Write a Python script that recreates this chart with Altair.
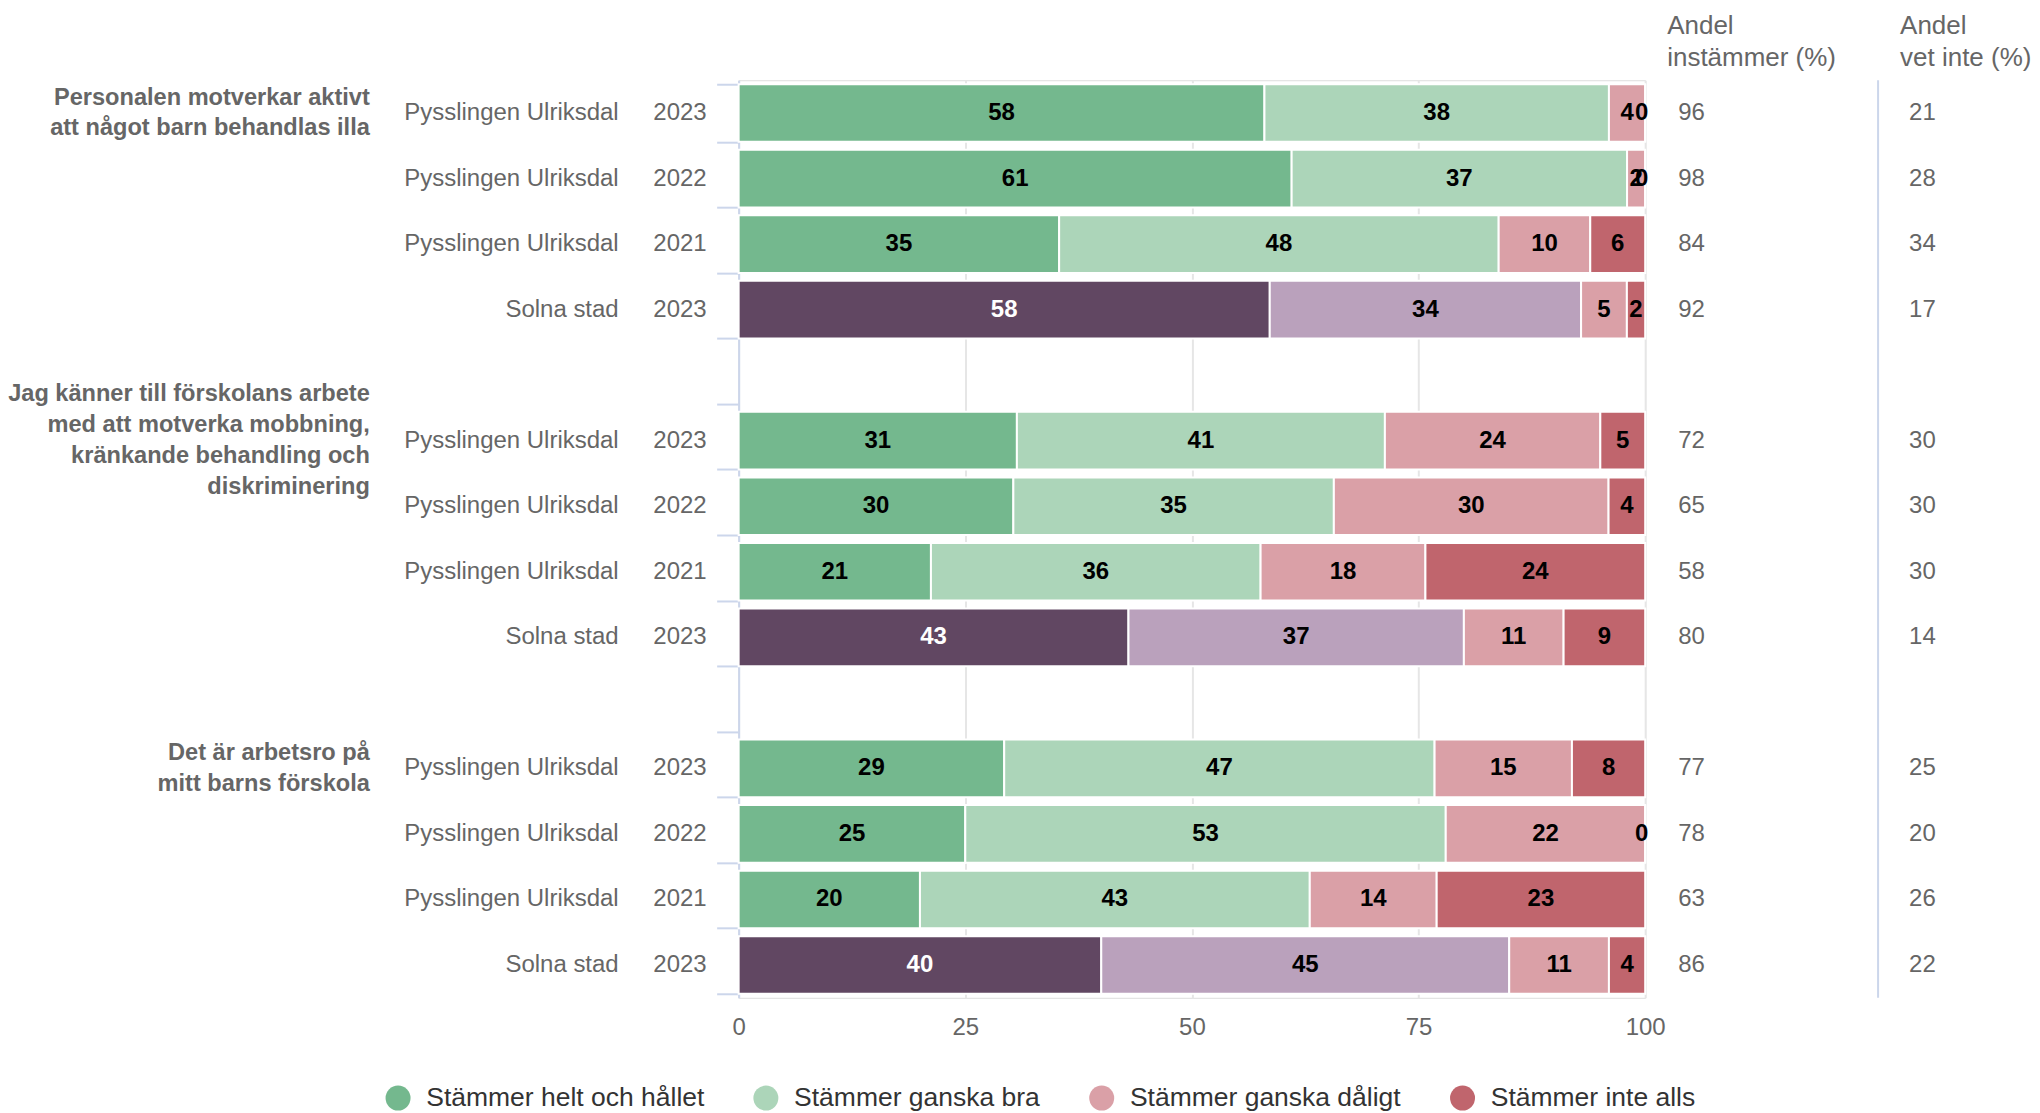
import altair as alt
import pandas as pd

# ---------------- data ----------------
categories = ["Stämmer helt och hållet", "Stämmer ganska bra",
              "Stämmer ganska dåligt", "Stämmer inte alls"]
solna_keys = ["Solna: Stämmer helt och hållet", "Solna: Stämmer ganska bra"]
colors = ["#74b88e", "#acd5b9", "#daa0a7", "#c0656d", "#614762", "#baa1bc"]

group_labels = [
    "Personalen motverkar aktivt\natt något barn behandlas illa",
    "Jag känner till förskolans arbete\nmed att motverka mobbning,\nkränkande behandling och\ndiskriminering",
    "Det är arbetsro på\nmitt barns förskola",
]
units = ["Pysslingen Ulriksdal", "Pysslingen Ulriksdal", "Pysslingen Ulriksdal", "Solna stad"]
years = ["2023", "2022", "2021", "2023"]

helt = [58, 61, 35, 58, 31, 30, 21, 43, 29, 25, 20, 40]
bra = [38, 37, 48, 34, 41, 35, 36, 37, 47, 53, 43, 45]
daligt = [4, 2, 10, 5, 24, 30, 18, 11, 15, 22, 14, 11]
inte = [0, 0, 6, 2, 5, 4, 24, 9, 8, 0, 23, 4]
instammer = [96, 98, 84, 92, 72, 65, 58, 80, 77, 78, 63, 86]
vet_inte = [21, 28, 34, 17, 30, 30, 30, 14, 25, 20, 26, 22]

header_inst = "Andel\ninstämmer (%)"
header_vet = "Andel\nvet inte (%)"
x_ticks = [0, 0.25, 0.5, 0.75, 1.0]

# ---------------- tables ----------------
row_domain = [f"r{i}" for i in range(14)]
series = [helt, bra, daligt, inte]

rows, long_rows, grp_rows = [], [], []
for gi, g in enumerate(group_labels):
    for ri in range(4):
        idx = gi * 4 + ri
        key = f"r{gi * 5 + ri}"
        rows.append({"row": key, "unit": units[ri], "year": years[ri],
                     "inst": instammer[idx], "vet": vet_inte[idx]})
        solna = units[ri] == "Solna stad"
        for ci, cat in enumerate(categories):
            ckey = solna_keys[ci] if (solna and ci < 2) else cat
            long_rows.append({"row": key, "cat": cat, "ckey": ckey, "order": ci,
                              "value": series[ci][idx],
                              "lbl": "white" if (solna and ci == 0) else "black"})
    grp_rows.append({"row": f"r{gi * 5}", "label": g, "nlines": g.count("\n") + 1})

rows_df = pd.DataFrame(rows)
long_df = pd.DataFrame(long_rows)
grp_df = pd.DataFrame(grp_rows)

W, H = 907, 918
FONT = "Liberation Sans"
GREY = "#666666"
LH = 31

yscale = alt.Scale(domain=row_domain, paddingInner=0.12, paddingOuter=0.06)
yaxis = alt.Axis(labels=False, title=None, ticks=True, tickSize=22, tickColor="#ccd6eb",
                 tickWidth=2, tickBand="extent", domain=True, domainColor="#ccd6eb",
                 domainWidth=2, grid=False)
yenc = alt.Y("row:N", scale=yscale, axis=yaxis)

xscale = alt.Scale(domain=[0, 1], nice=False)
xaxis = alt.Axis(values=x_ticks, labelExpr="format(datum.value*100, 'd')", title=None,
                 domain=False, ticks=False, grid=True, gridColor="#e6e6e6", gridWidth=2,
                 labelFontSize=24, labelColor=GREY, labelPadding=18, labelFont=FONT,
                 labelFlush=False, labelOverlap=False)

base = alt.Chart(long_df).transform_stack(
    stack="value", groupby=["row"], as_=["v0", "v1"], offset="normalize",
    sort=[alt.SortField("order", order="ascending")]
).transform_calculate(
    mid="datum.value == 0 ? datum.v1 - 0.004 : (datum.v0 + datum.v1) / 2"
)

legend = alt.Legend(orient="none", legendX=-354, legendY=1005, direction="horizontal",
                    values=categories, symbolType="circle", symbolSize=625,
                    symbolStrokeWidth=0, labelFontSize=26.5, labelColor="#333333",
                    labelFont=FONT, columnPadding=48, labelOffset=15, title=None,
                    labelLimit=0, padding=0)

bars = base.mark_bar(stroke="white", strokeWidth=2).encode(
    x=alt.X("v0:Q", scale=xscale, axis=xaxis),
    x2="v1:Q",
    y=yenc,
    color=alt.Color("ckey:N", scale=alt.Scale(domain=categories + solna_keys, range=colors),
                    legend=legend),
)

bar_labels = base.mark_text(font=FONT, fontSize=24, fontWeight="bold").encode(
    x=alt.X("mid:Q", scale=xscale, axis=xaxis),
    y=yenc,
    text="value:Q",
    color=alt.condition(alt.datum.lbl == "white", alt.value("white"), alt.value("black")),
)

names = alt.Chart(rows_df).mark_text(font=FONT, fontSize=24, color=GREY, align="right").encode(
    x=alt.value(-120), y=yenc, text="unit:N")
yrs = alt.Chart(rows_df).mark_text(font=FONT, fontSize=24, color=GREY, align="right").encode(
    x=alt.value(-32), y=yenc, text="year:N")


def group_layer(n):
    return alt.Chart(grp_df).transform_filter(alt.datum.nlines == n).mark_text(
        font=FONT, fontSize=23.6, fontWeight="bold", color=GREY, align="right",
        baseline="middle", lineBreak="\n", lineHeight=LH, dy=-(n - 1) * LH / 2
    ).encode(x=alt.value(-369), y=yenc, text="label:N")


groups2 = group_layer(2)
groups4 = group_layer(4)

inst = alt.Chart(rows_df).mark_text(font=FONT, fontSize=24, color=GREY, align="left").encode(
    x=alt.value(940), y=yenc, text="inst:Q")
vet = alt.Chart(rows_df).mark_text(font=FONT, fontSize=24, color=GREY, align="left").encode(
    x=alt.value(1171), y=yenc, text="vet:Q")

sep = alt.Chart(pd.DataFrame({"a": [0]})).mark_rule(color="#ccd6eb", strokeWidth=2).encode(
    x=alt.value(1140), y=alt.value(0), y2=alt.value(H))

h1 = alt.Chart(pd.DataFrame({"t": [header_inst]})).mark_text(
    font=FONT, fontSize=26, color=GREY, align="left", baseline="alphabetic",
    lineBreak="\n", lineHeight=32).encode(x=alt.value(929), y=alt.value(-46), text="t:N")
h2 = alt.Chart(pd.DataFrame({"t": [header_vet]})).mark_text(
    font=FONT, fontSize=26, color=GREY, align="left", baseline="alphabetic",
    lineBreak="\n", lineHeight=32).encode(x=alt.value(1162), y=alt.value(-46), text="t:N")

chart = alt.layer(bars, bar_labels, names, yrs, groups2, groups4, inst, vet, sep, h1, h2).properties(
    width=W, height=H, padding={"left": 0, "top": 5, "right": 0, "bottom": 0},
    background="white"
).configure_view(stroke=None).configure(font=FONT)

chart.save("out.html", embed_options={"renderer": "svg", "actions": False})
